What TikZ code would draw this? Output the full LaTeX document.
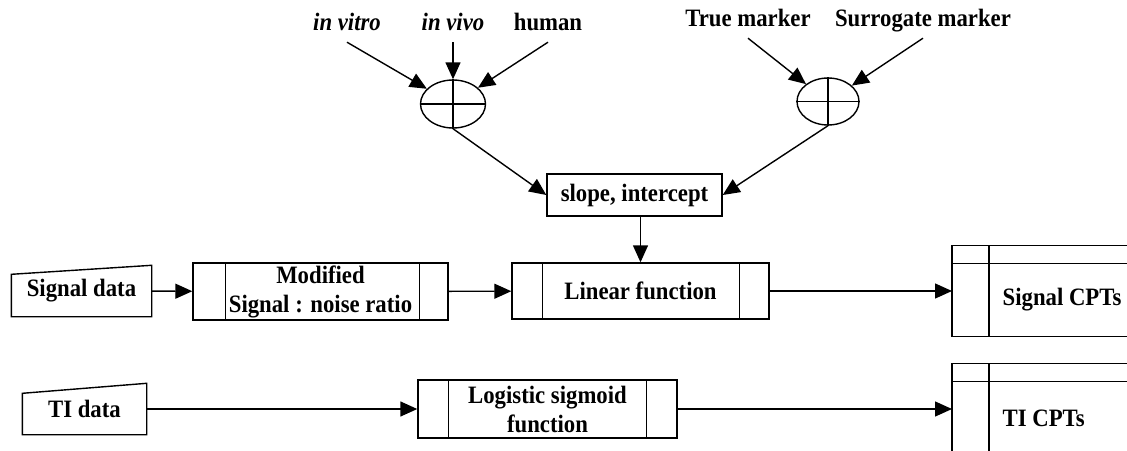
\documentclass[tikz,border=0pt]{standalone}
\usepackage{fontspec}
\setmainfont[FakeStretch=0.91]{Liberation Serif}
\usetikzlibrary{arrows.meta,shapes.geometric}
\begin{document}
\begin{tikzpicture}[x=1pt,y=-1pt,
  font=\fontsize{25}{29}\selectfont\bfseries,
  line width=1.4pt,
  arr/.style={-{Triangle[length=17pt,width=15pt]}},
  lab/.style={inner xsep=2pt,inner ysep=6pt,text height=16pt,text depth=5pt},
  sumnode/.style={draw,ellipse,inner sep=0pt},
  plainbox/.style={draw,inner sep=0pt},
  procbox/.style={draw,inner sep=0pt,align=center},
  inpbox/.style={inner sep=0pt},
  cpt/.style={inner sep=0pt,anchor=west}]
\useasboundingbox (0,0) rectangle (1127,450);

% top labels
\node[lab,font=\fontsize{25}{29}\selectfont\bfseries\itshape] (invitro) at (347,25) {in vitro};
\node[lab,font=\fontsize{25}{29}\selectfont\bfseries\itshape] (invivo) at (453,25) {in vivo};
\node[lab] (human) at (548,25) {human};
\node[lab] (truem) at (748,21) {True marker};
\node[lab] (surr) at (923,21) {Surrogate marker};

% summing junctions
\node[sumnode,minimum width=65pt,minimum height=48pt] (e1) at (453,104) {};
\node[sumnode,minimum width=62pt,minimum height=47pt] (e2) at (828,101.5) {};
\draw (e1.north) -- (e1.south) (e1.west) -- (e1.east);
\draw (e2.north) -- (e2.south) (e2.west) -- (e2.east);

% slope box
\node[plainbox,minimum width=175pt,minimum height=42pt] (slope) at (634.5,195) {slope, intercept};

% inputs
\node[inpbox,minimum width=139pt,minimum height=50pt] (sd) at (81.5,291) {Signal data};
\draw (sd.south west) -- (sd.south east) -- (sd.north east) -- ([yshift=-9pt]sd.north west) -- cycle;
\node[inpbox,minimum width=123pt,minimum height=50pt] (td) at (84.5,409) {TI data};
\draw (td.south west) -- (td.south east) -- (td.north east) -- ([yshift=-10pt]td.north west) -- cycle;

% process boxes
\node[procbox,minimum width=255pt,minimum height=57pt] (mod) at (320.5,291.5) {Modified\\Signal : noise ratio};
\draw ([xshift=33pt]mod.north west) -- ([xshift=33pt]mod.south west);
\draw ([xshift=-29pt]mod.north east) -- ([xshift=-29pt]mod.south east);

\node[procbox,minimum width=257pt,minimum height=56pt] (lin) at (640.5,291) {Linear function};
\draw ([xshift=31pt]lin.north west) -- ([xshift=31pt]lin.south west);
\draw ([xshift=-30pt]lin.north east) -- ([xshift=-30pt]lin.south east);

\node[procbox,minimum width=259pt,minimum height=58pt] (logi) at (547.5,409) {Logistic sigmoid\\function};
\draw ([xshift=31pt]logi.north west) -- ([xshift=31pt]logi.south west);
\draw ([xshift=-31pt]logi.north east) -- ([xshift=-31pt]logi.south east);

% CPT tables
\node[cpt,minimum width=175pt,minimum height=90pt] (scpt) at (952,291) {};
\draw (scpt.north east) -- (scpt.north west) -- (scpt.south west) -- (scpt.south east);
\draw ([yshift=-18pt]scpt.north west) -- ([yshift=-18pt]scpt.north east);
\draw ([xshift=37pt]scpt.north west) -- ([xshift=37pt]scpt.south west);
\node[cpt] (sctext) at (1002,300) {Signal CPTs};

\node[cpt,minimum width=175pt,minimum height=90pt] (tcpt) at (952,409) {};
\draw (tcpt.north east) -- (tcpt.north west) -- (tcpt.south west);
\draw ([yshift=-18pt]tcpt.north west) -- ([yshift=-18pt]tcpt.north east);
\draw ([xshift=37pt]tcpt.north west) -- ([xshift=37pt]tcpt.south west);
\node[cpt] (tctext) at (1002,418) {TI CPTs};

% connectors
\draw[arr] (invitro.south) -- (e1);
\draw[arr] (invivo.south) -- (e1);
\draw[arr] (human.south) -- (e1);
\draw[arr] (truem.south) -- (e2);
\draw[arr] (surr.south) -- (e2);
\draw[arr] (e1.south) -- (slope.west);
\draw[arr] (e2.south) -- (slope.east);
\draw[arr] (slope.south -| lin.north) -- (lin.north);
\draw[arr] (sd) -- (mod);
\draw[arr] (mod) -- (lin);
\draw[arr] (lin) -- (scpt.west);
\draw[arr] (td) -- (logi);
\draw[arr] (logi) -- (tcpt.west);
\end{tikzpicture}
\end{document}
